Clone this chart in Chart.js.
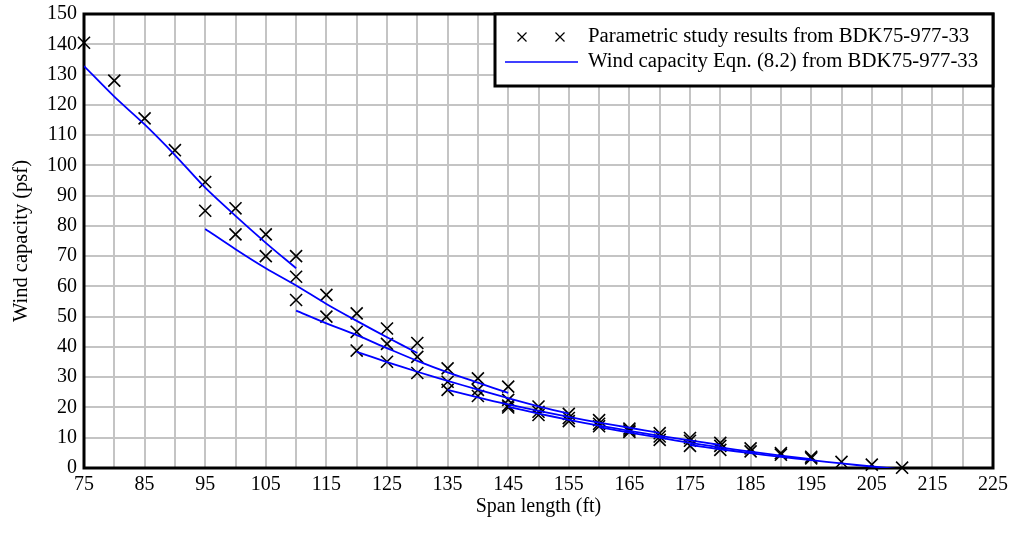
<!DOCTYPE html>
<html>
<head>
<meta charset="utf-8">
<script src="https://cdn.jsdelivr.net/npm/chart.js@4.4.1/dist/chart.umd.min.js"></script>
<style>
  html, body { margin: 0; padding: 0; background: #fff; }
</style>
</head>
<body>
<canvas id="chart" width="1013" height="535"></canvas>
<script>
// first span of each girder group, spans go up in 5 ft steps
const groupStart = [75, 95, 110, 120, 135, 145, 160, 175]
const spanStep = 5

// parametric study results (psf), one row per group
const studyResults = [
  [140.5, 128, 115.5, 105, 94.5, 85.8, 77.2, 70],
  [85, 77.2, 70, 63.2, 57.2, 51.1, 46.1, 41.3],
  [55.5, 50, 45, 41, 36.7, 32.9, 29.6, 26.9],
  [38.8, 35.1, 31.4, 28.5, 25.8, 22.5, 20.3, 17.9],
  [25.8, 23.8, 20.6, 18.6, 16.5, 15.8, 13, 11.5],
  [20, 17.5, 15.5, 14.6, 12.4, 10.4, 9.9, 8.3],
  [13.8, 11.9, 9.3, 9, 7.3, 6.5, 4.9, 3.7],
  [7.3, 6, 5.5, 4.4, 3.2, 2, 1.1, 0.1],
]

// Eqn. (8.2) curve (psf), one row per group
const eqnCapacity = [
  [132.8, 122.7, 113.5, 103.4, 92.6, 83.3, 74.4, 66],
  [79, 72.3, 66, 60.3, 54.2, 48.6, 43.2, 38],
  [52, 47.8, 43.9, 39.6, 35.4, 31.6, 28.2, 24.8],
  [38.4, 35, 31.8, 28.8, 25.9, 23.1, 20.4, 18],
  [25.8, 23.3, 21, 18.9, 16.9, 15, 13.3, 11.6],
  [20.2, 18, 15.9, 14, 12.3, 10.6, 9.1, 7.6],
  [13.5, 11.7, 10, 8.3, 6.8, 5.4, 4.1, 2.9],
  [7.6, 6.2, 4.9, 3.7, 2.6, 1.5, 0.5, -0.5],
]

const xLabels = [75, 85, 95, 105, 115, 125, 135, 145, 155, 165, 175, 185, 195, 205, 215, 225]
const yLabels = [0, 10, 20, 30, 40, 50, 60, 70, 80, 90, 100, 110, 120, 130, 140, 150]

const legendLabels = ['Parametric study results from BDK75-977-33', 'Wind capacity Eqn. (8.2) from BDK75-977-33']

const serif = "'Liberation Serif', 'Times New Roman', serif"
const blue = '#0000ff'

function toPoints(row, g) {
  return row.map((v, j) => ({ x: groupStart[g] + j * spanStep, y: v }))
}

const datasets = []
eqnCapacity.forEach((row, g) => {
  datasets.push({
    label: legendLabels[1],
    data: toPoints(row, g),
    showLine: true,
    borderColor: blue,
    borderWidth: 1.8,
    pointRadius: 0,
    tension: 0.3,
  })
})
datasets.push({
  label: legendLabels[0],
  data: studyResults.flatMap(toPoints),
  pointStyle: 'crossRot',
  pointRadius: 8.5,
  borderColor: '#000',
  borderWidth: 1.6,
  backgroundColor: '#000',
  clip: false,
})

// black box round the plot, drawn over the grid
const frame = {
  id: 'frame',
  beforeDatasetsDraw(chart) {
    const { ctx, chartArea: a } = chart
    ctx.save()
    ctx.strokeStyle = '#000'
    ctx.lineWidth = 3
    ctx.strokeRect(a.left, a.top, a.right - a.left, a.bottom - a.top)
    ctx.restore()
  }
}

// boxed legend in the top right corner
const boxLegend = {
  id: 'boxLegend',
  afterDraw(chart) {
    const { ctx, chartArea: a } = chart
    const x0 = a.right - 498, y0 = a.top, x1 = a.right, y1 = a.top + 72
    ctx.save()
    ctx.fillStyle = '#fff'
    ctx.fillRect(x0, y0, x1 - x0, y1 - y0)
    ctx.strokeStyle = '#000'
    ctx.lineWidth = 3
    ctx.strokeRect(x0, y0, x1 - x0, y1 - y0)

    const row1 = y0 + 23, row2 = y0 + 48
    ctx.lineWidth = 1.2
    ctx.strokeStyle = '#000'
    for (const cx of [x0 + 27, x0 + 65]) {
      ctx.beginPath()
      ctx.moveTo(cx - 4.5, row1 - 4.5); ctx.lineTo(cx + 4.5, row1 + 4.5)
      ctx.moveTo(cx + 4.5, row1 - 4.5); ctx.lineTo(cx - 4.5, row1 + 4.5)
      ctx.stroke()
    }
    ctx.strokeStyle = blue
    ctx.lineWidth = 1.5
    ctx.beginPath()
    ctx.moveTo(x0 + 10, row2); ctx.lineTo(x0 + 83, row2)
    ctx.stroke()

    ctx.fillStyle = '#000'
    ctx.font = `20.8px ${serif}`
    ctx.textBaseline = 'middle'
    ctx.fillText(legendLabels[0], x0 + 93, row1)
    ctx.fillText(legendLabels[1], x0 + 93, row2)
    ctx.restore()
  }
}

new Chart(document.getElementById('chart'), {
  type: 'scatter',
  data: { datasets },
  plugins: [frame, boxLegend],
  options: {
    responsive: false,
    animation: false,
    layout: { padding: { top: 14, right: 20, left: 0, bottom: 0 } },
    plugins: { legend: { display: false }, tooltip: { enabled: false } },
    scales: {
      x: {
        type: 'linear',
        min: 75,
        max: 225,
        afterFit(s) { s.height = 67; s.paddingLeft = 0; s.paddingRight = 0 },
        grid: { color: '#c4c4c4', lineWidth: 2, drawTicks: false },
        border: { display: false },
        ticks: {
          stepSize: 5,
          padding: 5,
          color: '#000',
          font: { family: serif, size: 20 },
          maxRotation: 0,
          autoSkip: false,
          callback: v => xLabels.includes(v) ? String(v) : '',
        },
        title: {
          display: true,
          text: 'Span length (ft)',
          color: '#000',
          font: { family: serif, size: 20 },
          padding: { top: 0, bottom: 16 },
        },
      },
      y: {
        min: 0,
        max: 150,
        afterFit(s) { s.width = 84; s.paddingTop = 0; s.paddingBottom = 0 },
        grid: { color: '#c4c4c4', lineWidth: 2, drawTicks: false },
        border: { display: false },
        ticks: {
          stepSize: 10,
          padding: 7,
          color: '#000',
          font: { family: serif, size: 20 },
          callback: v => yLabels.includes(v) ? String(v) : '',
        },
        title: {
          display: true,
          text: 'Wind capacity (psf)',
          color: '#000',
          font: { family: serif, size: 20.5 },
          padding: { top: 9, bottom: 0 },
        },
      },
    },
  },
})
</script>
</body>
</html>
